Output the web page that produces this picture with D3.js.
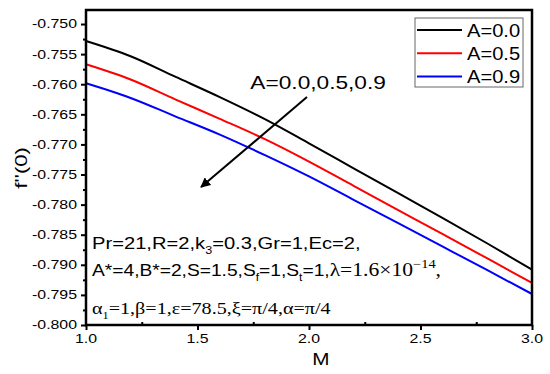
<!DOCTYPE html>
<html>
<head>
<meta charset="utf-8">
<script src="https://cdn.jsdelivr.net/npm/d3@7"></script>
<style>
  body { margin: 0; background: #fff; }
  text { font-family: "Liberation Sans", Arial, sans-serif; fill: #000; }
</style>
</head>
<body>
<div id="chart"></div>
<script>
// data: f''(0) against M for three values of A
var mValues = [1.0, 1.2, 1.4, 1.6, 1.8, 2.0, 2.2, 2.4, 2.6, 2.8, 3.0];
var fA00 = [-0.75282, -0.75535, -0.75875, -0.76214, -0.76576, -0.76982, -0.77397, -0.77811, -0.78224, -0.78646, -0.79080];
var fA05 = [-0.75669, -0.75922, -0.76251, -0.76575, -0.76909, -0.77286, -0.77688, -0.78090, -0.78492, -0.78895, -0.79301];
var fA09 = [-0.75985, -0.76228, -0.76533, -0.76837, -0.77174, -0.77532, -0.77920, -0.78309, -0.78699, -0.79090, -0.79485];
var seriesNames = ["A=0.0", "A=0.5", "A=0.9"];
var seriesColors = ["#000000", "#ff0000", "#0000ff"];
var xTicks = [1.0, 1.5, 2.0, 2.5, 3.0];
var yTicks = [-0.750, -0.755, -0.760, -0.765, -0.770, -0.775, -0.780, -0.785, -0.790, -0.795, -0.800];

var series = [fA00, fA05, fA09].map(function(vals, i) {
    return {
        name: seriesNames[i],
        color: seriesColors[i],
        points: mValues.map(function(m, j) { return {m: m, v: vals[j]}; })
    };
});

var width = 550, height = 374;
var margin = {left: 86, top: 10, right: 18, bottom: 49};
var SX = 1.22; // the picture's lettering is a bit wider than the font

var svg = d3.select("#chart").append("svg")
    .attr("width", width)
    .attr("height", height);

var xScale = d3.scaleLinear()
    .domain([1.0, 3.0])
    .range([margin.left, width - margin.right]);

var yScale = d3.scaleLinear()
    .domain([-0.800, -0.74767])
    .range([height - margin.bottom, margin.top]);

// text written with a horizontal stretch, anchored at x,y
function stretchedText(parent, x, y, size, sx, anchor) {
    return parent.append("text")
        .attr("transform", "translate(" + x + "," + y + ") scale(" + sx + ",1)")
        .attr("text-anchor", anchor || "start")
        .style("font-size", size + "px");
}

// curves
var line = d3.line()
    .x(function(d) { return xScale(d.m); })
    .y(function(d) { return yScale(d.v); })
    .curve(d3.curveMonotoneX);

svg.append("g").selectAll("path")
    .data(series)
    .enter()
    .append("path")
    .attr("d", function(d) { return line(d.points); })
    .attr("fill", "none")
    .attr("stroke", function(d) { return d.color; })
    .attr("stroke-width", 2);

// axes: major ticks outside, minor ticks between
var yAxis = d3.axisLeft(yScale).tickValues(yTicks).tickSize(5).tickFormat("");
var yMinor = d3.axisLeft(yScale).tickValues(d3.range(-0.7975, -0.748, 0.005)).tickSize(3).tickFormat("");
var xAxis = d3.axisBottom(xScale).tickValues(xTicks).tickSize(5).tickFormat("");
var xMinor = d3.axisTop(xScale).tickValues([1.25, 1.75, 2.25, 2.75]).tickSize(3).tickFormat("");

[[yAxis, "translate(" + margin.left + ",0)"], [yMinor, "translate(" + margin.left + ",0)"],
 [xAxis, "translate(0," + (height - margin.bottom) + ")"], [xMinor, "translate(0," + (height - margin.bottom) + ")"]]
.forEach(function(a) {
    var g = svg.append("g").attr("transform", a[1]).call(a[0]);
    g.select(".domain").remove();
    g.selectAll("line").attr("stroke", "#000").attr("stroke-width", 2);
});

// frame
svg.append("rect")
    .attr("x", margin.left)
    .attr("y", margin.top)
    .attr("width", width - margin.left - margin.right)
    .attr("height", height - margin.top - margin.bottom)
    .attr("fill", "none")
    .attr("stroke", "#000")
    .attr("stroke-width", 2.5);

// tick labels
yTicks.forEach(function(t) {
    stretchedText(svg, margin.left - 9, yScale(t) + 4.4, 12.5, 1.27, "end").text(t.toFixed(3));
});
xTicks.forEach(function(t) {
    stretchedText(svg, xScale(t), height - margin.bottom + 18, 12.5, 1.27, "middle").text(t.toFixed(1));
});

// axis titles
stretchedText(svg, xScale(2.0) + 12, 365, 17, SX, "middle").text("M");
svg.append("text")
    .attr("transform", "translate(27," + yScale(-0.7739) + ") rotate(-90) scale(1.3,1)")
    .attr("text-anchor", "middle")
    .style("font-size", "17px")
    .text("f''(0)");

// legend
var legend = svg.append("g");
legend.append("rect")
    .attr("x", 415).attr("y", 18)
    .attr("width", 108).attr("height", 69)
    .attr("fill", "#fff")
    .attr("stroke", "#666")
    .attr("stroke-width", 1);
series.forEach(function(s, i) {
    var ly = 30 + i * 23.2;
    legend.append("line")
        .attr("x1", 417).attr("x2", 462)
        .attr("y1", ly).attr("y2", ly)
        .attr("stroke", s.color)
        .attr("stroke-width", 2);
    stretchedText(legend, 467, ly + 6.5, 17.5, 1.15).text(s.name);
});

// arrow annotation
svg.append("defs").append("marker")
    .attr("id", "head")
    .attr("viewBox", "0 0 10 10")
    .attr("refX", 9).attr("refY", 5)
    .attr("markerWidth", 5).attr("markerHeight", 5)
    .attr("markerUnits", "strokeWidth")
    .attr("orient", "auto")
    .append("path")
    .attr("d", "M0,0 L10,5 L0,10 z")
    .attr("fill", "#000");

svg.append("line")
    .attr("x1", xScale(1.991)).attr("y1", yScale(-0.76213))
    .attr("x2", xScale(1.516)).attr("y2", yScale(-0.77708))
    .attr("stroke", "#000")
    .attr("stroke-width", 2)
    .attr("marker-end", "url(#head)");

stretchedText(svg, xScale(1.737), yScale(-0.76081), 18, 1.26).text("A=0.0,0.5,0.9");

// parameter block
var px = xScale(1.027);
var serif = "'Liberation Serif', 'Times New Roman', serif";
var t1 = stretchedText(svg, px, yScale(-0.78738), 16, 1.26);
t1.append("tspan").text("Pr=21,R=2,k");
t1.append("tspan").attr("dy", 5).style("font-size", "10px").text("3");
t1.append("tspan").attr("dy", -5).text("=0.3,Gr=1,Ec=2,");

var t2 = stretchedText(svg, px, yScale(-0.79186), 16, 1.2);
t2.append("tspan").text("A*=4,B*=2,S=1.5,S");
t2.append("tspan").attr("dy", 5).style("font-size", "10px").text("f");
t2.append("tspan").attr("dy", -5).text("=1,S");
t2.append("tspan").attr("dy", 5).style("font-size", "10px").text("t");
t2.append("tspan").attr("dy", -5).text("=1,");
t2.append("tspan").style("font-family", serif).style("font-size", "18px").text("\u03bb=1.6\u00d710");
t2.append("tspan").attr("dy", -8).style("font-family", serif).style("font-size", "12px").text("\u221214");
t2.append("tspan").attr("dy", 8).style("font-family", serif).style("font-size", "18px").text(",");

var t3 = stretchedText(svg, px, yScale(-0.79817), 16.5, 1.22)
    .style("font-family", serif);
t3.append("tspan").text("\u03b1");
t3.append("tspan").attr("dy", 5).style("font-size", "10px").text("1");
t3.append("tspan").attr("dy", -5).text("=1,\u03b2=1,\u03b5=78.5,\u03be=\u03c0/4,\u03b1=\u03c0/4");
</script>
</body>
</html>
